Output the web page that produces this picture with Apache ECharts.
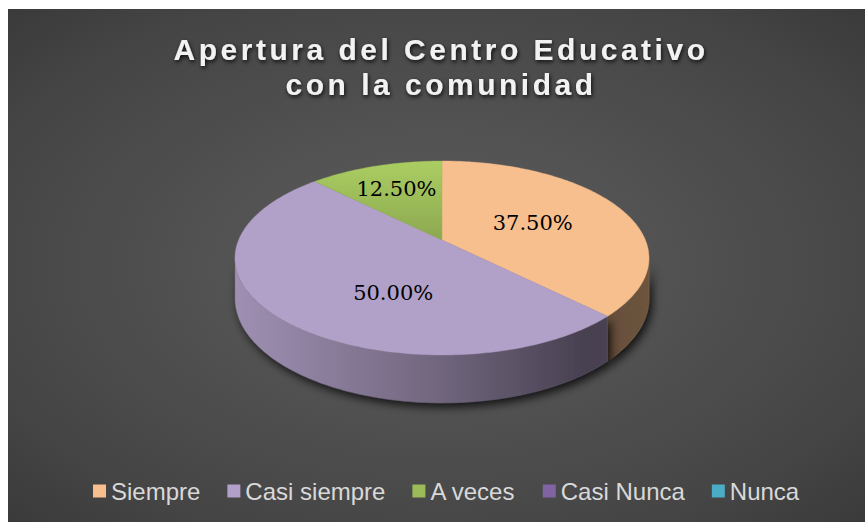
<!DOCTYPE html>
<html>
<head>
<meta charset="utf-8">
<script src="https://cdn.jsdelivr.net/npm/echarts@6/dist/echarts.min.js"></script>
<style>
    html, body { margin: 0; padding: 0; background: #ffffff; }
    #chart { position: absolute; left: 8px; top: 9px; width: 857px; height: 513px; }
    #chart text[style*="bold"] { letter-spacing: 3.5px; }
</style>
</head>
<body>
<div id="chart"></div>
<script>
// datos
const categories = ['Siempre', 'Casi siempre', 'A veces', 'Casi Nunca', 'Nunca'];
const values = [37.5, 50, 12.5, 0, 0];
const colors = ['#F7BE8E', '#B1A0C7', '#9BBB59', '#8064A2', '#4BACC6'];

window.addEventListener('load', function () {
    let chart = echarts.init(document.getElementById('chart'), null, {renderer: 'svg'});

    // perspectiva del pastel 3D
    const CX = 434, CY = 231, A = 203.4, B = 93.66, P = 0.1856, D0 = 39;
    const RX = A / Math.sqrt(1 - P * P);
    const total = values.reduce((s, v) => s + v, 0);
    const starts = values.map((v, i) => values.slice(0, i).reduce((s, x) => s + x, 0));
    // ajuste de etiquetas: [giro en grados, fraccion del radio]
    const labelAdj = [[0, 0.5], [-22, 0.556], [0, 0.65], [0, 0.5], [0, 0.5]];
    const topShade = [0, 0, 0.1, 0, 0];

    function proj(phi, r, drop) {
        const t = phi * Math.PI / 180;
        const u = r * Math.sin(t), v = -r * Math.cos(t);
        const k = 1 / (1 - P * v);
        return [CX + A * u * k, CY + B * v * k + (drop ? D0 * k : 0)];
    }
    function shade(hex, f) {
        const n = parseInt(hex.slice(1), 16);
        const c = [(n >> 16) & 255, (n >> 8) & 255, n & 255].map(x => Math.max(0, Math.min(255, Math.round(x * f))));
        return 'rgb(' + c.join(',') + ')';
    }
    function arc(a0, a1, drop) {
        let pts = [];
        let n = Math.max(2, Math.ceil(Math.abs(a1 - a0)));
        for (let j = 0; j <= n; j++) pts.push(proj(a0 + (a1 - a0) * j / n, 1, drop));
        return pts;
    }

    function makeRender(idx) {
        return function (params, api) {
            const start = api.value(0), val = api.value(1);
            if (!val) return;
            const p0 = start / total * 360, p1 = (start + val) / total * 360;
            const base = colors[idx];
            let children = [];

            // lado visible (entre los dos bordes de la silueta)
            const sideA = Math.acos(-P) * 180 / Math.PI;
            const sideB = 360 - sideA;
            const s0 = Math.max(p0, sideA), s1 = Math.min(p1, sideB);
            if (s1 > s0) {
                const pts = arc(s0, s1, false).concat(arc(s1, s0, true));
                children.push({
                    type: 'polygon',
                    shape: {points: pts},
                    z2: 1,
                    style: {
                        fill: {
                            type: 'linear', x: CX - RX, y: 0, x2: CX + RX, y2: 0, global: true,
                            colorStops: [
                                {offset: 0, color: shade(base, 0.9)},
                                {offset: 0.5, color: shade(base, 0.63)},
                                {offset: 0.85, color: shade(base, 0.4)},
                                {offset: 1, color: shade(base, 0.44)}
                            ]
                        },
                        stroke: shade(base, 0.6),
                        lineWidth: 0.3,
                        shadowBlur: 10,
                        shadowColor: 'rgba(0,0,0,0.8)',
                        shadowOffsetX: 3,
                        shadowOffsetY: 4
                    }
                });
            }

            // cara superior
            const topPts = [proj(0, 0, false)].concat(arc(p0, p1, false));
            let topFill = base;
            if (topShade[idx]) {
                topFill = {
                    type: 'linear', x: 0, y: CY - B / (1 + P), x2: 0, y2: CY, global: true,
                    colorStops: [
                        {offset: 0, color: shade(base, 1 + topShade[idx])},
                        {offset: 1, color: shade(base, 1 - topShade[idx])}
                    ]
                };
            }
            children.push({
                type: 'polygon',
                shape: {points: topPts},
                z2: 5,
                style: {fill: topFill, stroke: base, lineWidth: 0.4}
            });

            // etiqueta
            const mid = (p0 + p1) / 2 + labelAdj[idx][0];
            const lp = proj(mid, labelAdj[idx][1], false);
            children.push({
                type: 'text',
                x: lp[0],
                y: lp[1],
                z2: 10,
                style: {
                    text: (val / total * 100).toFixed(2) + '%',
                    fill: '#000000',
                    font: '21px "DejaVu Serif"',
                    align: 'center',
                    verticalAlign: 'middle'
                }
            });
            return {type: 'group', children: children};
        };
    }

    let series = categories.map(function (name, i) {
        return {
            name: name,
            type: 'custom',
            coordinateSystem: 'none',
            renderItem: makeRender(i),
            data: [[starts[i], values[i]]],
            itemStyle: {color: colors[i]}
        };
    });

    let option = {
        animation: false,
        color: colors,
        graphic: [{
            type: 'rect',
            z: -10,
            silent: true,
            shape: {x: 0, y: 0, width: 857, height: 513},
            style: {
                fill: {
                    type: 'radial', x: 0.5, y: 0.5, r: 1,
                    colorStops: [
                        {offset: 0, color: '#5E5E5E'},
                        {offset: 0.55, color: '#454545'},
                        {offset: 1, color: '#262626'}
                    ]
                }
            }
        }],
        title: {
            text: 'Apertura del Centro Educativo\ncon la comunidad',
            left: 433,
            top: 23,
            padding: 0,
            textAlign: 'center',
            textStyle: {
                color: '#F2F2F2',
                fontSize: 30,
                fontWeight: 'bold',
                fontFamily: '"Liberation Sans", Arial, sans-serif',
                lineHeight: 35,
                textShadowColor: 'rgba(0,0,0,0.85)',
                textShadowBlur: 4,
                textShadowOffsetX: 1,
                textShadowOffsetY: 2
            }
        },
        legend: {
            data: categories,
            left: 85,
            top: 470,
            padding: 0,
            icon: 'rect',
            itemWidth: 13,
            itemHeight: 13,
            itemGap: 27,
            selectedMode: false,
            textStyle: {
                color: '#D9D9D9',
                fontSize: 24,
                fontFamily: '"Liberation Sans", Arial, sans-serif'
            }
        },
        series: series
    };
    chart.setOption(option);
}, false);
</script>
</body>
</html>
